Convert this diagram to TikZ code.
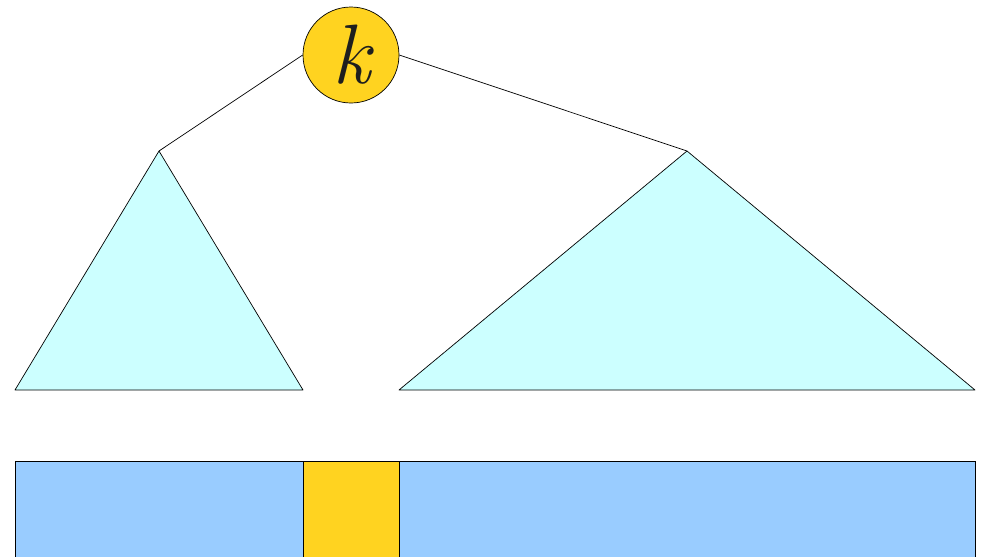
\documentclass[tikz,border=0pt]{standalone}
\usepackage{amsmath,amssymb}
\usepackage{tikz}
\usetikzlibrary{calc}
\usepackage{xcolor}
\definecolor{keygold}{RGB}{255,211,32}
\definecolor{treecyan}{RGB}{204,255,255}
\definecolor{arrblue}{RGB}{153,204,255}
\definecolor{ink}{RGB}{30,30,30}

\begin{document}
\begin{tikzpicture}[x=0.2mm,y=-0.2mm,
    keynode/.style={circle,draw,fill=keygold,minimum size=96*0.2mm,inner sep=0pt,
      text=ink,font=\fontsize{48}{48}\selectfont\itshape},
    subtree/.style={draw,fill=treecyan,line join=round},
    cell/.style={draw,line width=0.5pt}]
  \clip (0,0) rectangle (985,556);
  % subtrees
  \draw[subtree] (159,151) coordinate (ltop) -- (303,390) -- (15,390) -- cycle;
  \draw[subtree] (687,151) coordinate (rtop) -- (975,390) -- (399,390) -- cycle;
  % root key
  \node[keynode] (key) at (351,55) {k};
  \draw (key.west) -- (ltop);
  \draw (key.east) -- (rtop);
  % array below
  \draw[cell,fill=arrblue] (15,461) rectangle (303,580);
  \draw[cell,fill=keygold] (303,461) rectangle (399,580);
  \draw[cell,fill=arrblue] (399,461) rectangle (975,580);
\end{tikzpicture}
\end{document}
